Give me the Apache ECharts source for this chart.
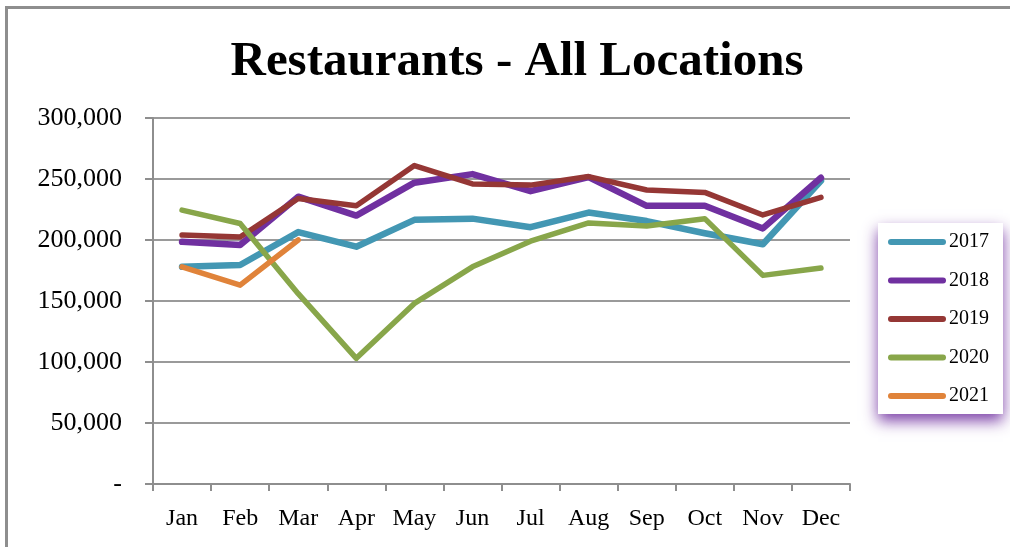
<!DOCTYPE html>
<html>
<head>
<meta charset="utf-8">
<style>
  html, body { margin: 0; padding: 0; background: #ffffff; }
  #chart { width: 1010px; height: 547px; }
</style>
<script src="https://cdn.jsdelivr.net/npm/echarts@6/dist/echarts.min.js"></script>
</head>
<body>
<div id="chart"></div>
<script>
// Monthly restaurant counts, all locations
const months = ['Jan', 'Feb', 'Mar', 'Apr', 'May', 'Jun', 'Jul', 'Aug', 'Sep', 'Oct', 'Nov', 'Dec'];
const years = ['2017', '2018', '2019', '2020', '2021'];
const values2017 = [178000, 179500, 206500, 194500, 216500, 217500, 210500, 222500, 215500, 205500, 196500, 248500];
const values2018 = [198500, 196000, 235500, 220000, 247000, 254000, 240000, 251500, 228000, 228000, 209500, 251000];
const values2019 = [204000, 202500, 234000, 228000, 261000, 246000, 245000, 252000, 241000, 239000, 220500, 235000];
const values2020 = [224500, 213500, 156000, 103000, 148000, 178000, 199000, 214000, 211500, 217500, 171000, 177000];
const values2021 = [178000, 163000, 200000];
const yTicks = [0, 50000, 100000, 150000, 200000, 250000, 300000];

const seriesValues = [values2017, values2018, values2019, values2020, values2021];
const colors = ['#4397B3', '#7030A0', '#953735', '#88A64A', '#E0833A'];
const widths = [6.5, 6.5, 5.5, 5.5, 5.5];

const serif = '"Liberation Serif", "Times New Roman", serif';
const capsule = 'path://M3,0 L55,0 A3,3 0 0 1 55,6 L3,6 A3,3 0 0 1 3,0 Z';

const chart = echarts.init(document.getElementById('chart'), null, { renderer: 'canvas' });

chart.setOption({
  animation: false,
  backgroundColor: '#ffffff',
  title: {
    text: 'Restaurants - All Locations',
    left: 512,
    textAlign: 'center',
    top: 33,
    textStyle: { fontFamily: serif, fontWeight: 'bold', fontSize: 49, color: '#000000' }
  },
  graphic: [{
    type: 'rect',
    shape: { x: 6.5, y: 7.5, width: 1100, height: 600 },
    style: { fill: 'none', stroke: '#8e8e8e', lineWidth: 3 },
    silent: true
  }],
  legend: {
    orient: 'vertical',
    left: 878,
    top: 223,
    data: years.map(function (y) { return { name: y, icon: capsule }; }),
    itemWidth: 58,
    itemHeight: 7,
    itemGap: 18.5,
    padding: [9, 14, 8, 10],
    backgroundColor: '#ffffff',
    shadowColor: 'rgba(112, 48, 160, 0.9)',
    shadowBlur: 14,
    shadowOffsetY: 7,
    textStyle: { fontFamily: serif, fontSize: 20, color: '#000000', padding: [0, 0, 0, -2] }
  },
  grid: { left: 153, right: 160, top: 118, bottom: 63, containLabel: false },
  xAxis: {
    type: 'category',
    data: months,
    boundaryGap: true,
    axisLine: { lineStyle: { color: '#8e8e8e', width: 2 } },
    axisTick: { show: true, length: 7, lineStyle: { color: '#8e8e8e', width: 2 } },
    axisLabel: { fontFamily: serif, fontSize: 24, color: '#000000', margin: 23 },
    splitLine: { show: false }
  },
  yAxis: {
    type: 'value',
    min: yTicks[0],
    max: yTicks[yTicks.length - 1],
    interval: yTicks[1] - yTicks[0],
    axisLine: { show: true, lineStyle: { color: '#8e8e8e', width: 2 } },
    axisTick: { show: true, length: 8, lineStyle: { color: '#8e8e8e', width: 2 } },
    axisLabel: {
      fontFamily: serif, fontSize: 26, color: '#000000', margin: 31,
      formatter: function (v) { return v === 0 ? '-' : v.toLocaleString('en-US'); }
    },
    splitLine: { show: true, lineStyle: { color: '#9a9a9a', width: 2 } }
  },
  series: years.map(function (y, i) {
    return {
      name: y,
      type: 'line',
      data: seriesValues[i],
      color: colors[i],
      symbol: 'none',
      smooth: false,
      z: 2 + i,
      lineStyle: { color: colors[i], width: widths[i], cap: 'round', join: 'round' }
    };
  })
});
</script>
</body>
</html>
